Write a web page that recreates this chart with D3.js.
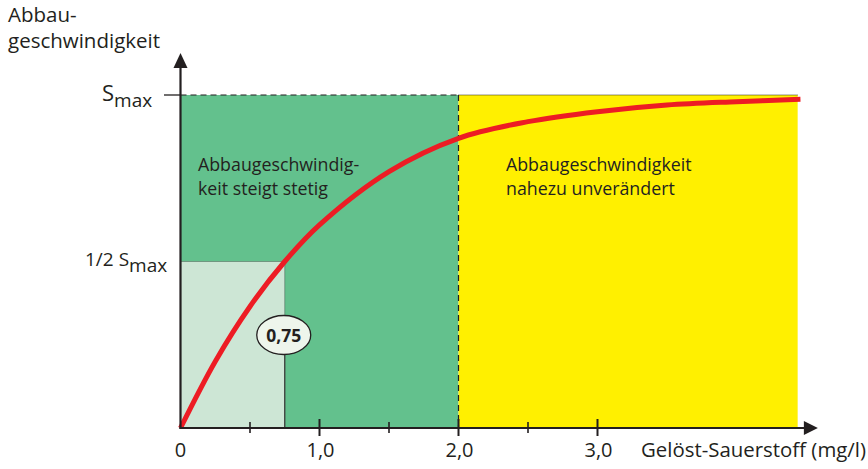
<!DOCTYPE html>
<html><head><meta charset="utf-8">
<script src="https://cdn.jsdelivr.net/npm/d3@7"></script>
<style>body{margin:0;background:#fff}svg{display:block}text{font-family:"Open Sans",sans-serif;fill:#231f20}</style>
</head><body>
<svg id="c" width="868" height="469"></svg>
<script>
// Dissolved oxygen (mg/l) vs. relative degradation rate (fraction of Smax)
const oxygen = [0, 0.25, 0.5, 0.75, 1.0, 1.5, 2.0, 2.5, 3.0, 3.5, 4.0, 4.46];
const rate   = [0, 0.2, 0.365, 0.5, 0.61, 0.77, 0.87, 0.92, 0.95, 0.97, 0.98, 0.987];
const majorTicks = [1, 2, 3];
const minorTicks = [0.5, 1.5, 2.5];
const tickLabels = ["0", "1,0", "2,0", "3,0"];
const halfPoint = 0.75;      // O2 at 1/2 Smax
const zoneLimit = 2.0;       // boundary between zones
const xEnd = 4.44;           // end of shaded area
const axisEnd = 4.6;

const svg = d3.select("#c");
const x = d3.scaleLinear().domain([0, 1]).range([180.5, 319.5]);
const y = d3.scaleLinear().domain([0, 1]).range([428, 95]);
const ink = "#231f20";

// zones
svg.append("rect").attr("x", x(0)).attr("y", y(1)).attr("width", x(zoneLimit) - x(0)).attr("height", y(0) - y(1)).attr("fill", "#63c18d");
svg.append("rect").attr("x", x(zoneLimit)).attr("y", y(1)).attr("width", x(xEnd) - x(zoneLimit)).attr("height", y(0) - y(1)).attr("fill", "#fff000");
svg.append("rect").attr("x", x(0)).attr("y", y(0.5)).attr("width", x(halfPoint) - x(0)).attr("height", y(0) - y(0.5)).attr("fill", "#cde6d5");

// reference lines
svg.append("line").attr("x1", x(0)).attr("x2", x(zoneLimit)).attr("y1", y(1)).attr("y2", y(1)).attr("stroke", ink).attr("stroke-width", 1.2).attr("stroke-dasharray", "6,4");
svg.append("line").attr("x1", x(zoneLimit)).attr("x2", x(xEnd)).attr("y1", y(1)).attr("y2", y(1)).attr("stroke", ink).attr("stroke-width", 1).attr("stroke-dasharray", "1,1");
svg.append("line").attr("x1", x(zoneLimit)).attr("x2", x(zoneLimit)).attr("y1", y(1)).attr("y2", y(0)).attr("stroke", ink).attr("stroke-width", 1.2).attr("stroke-dasharray", "6,4");
svg.append("line").attr("x1", x(0)).attr("x2", x(halfPoint)).attr("y1", y(0.5)).attr("y2", y(0.5)).attr("stroke", "#4a5a50").attr("stroke-width", 1).attr("stroke-dasharray", "1,1");
svg.append("line").attr("x1", x(halfPoint)).attr("x2", x(halfPoint)).attr("y1", y(0.5)).attr("y2", 335).attr("stroke", "#4a5a50").attr("stroke-width", 1).attr("stroke-dasharray", "1,1");
svg.append("line").attr("x1", x(halfPoint)).attr("x2", x(halfPoint)).attr("y1", 335).attr("y2", y(0)).attr("stroke", "#3a3a3a").attr("stroke-width", 1.3);

// zone texts
const t1 = svg.append("text").attr("font-size", 17.8);
t1.append("tspan").attr("x", 198).attr("y", 171).text("Abbaugeschwindig-");
t1.append("tspan").attr("x", 198).attr("y", 195).text("keit steigt stetig");
const t2 = svg.append("text").attr("font-size", 17.8);
t2.append("tspan").attr("x", 506).attr("y", 171).text("Abbaugeschwindigkeit");
t2.append("tspan").attr("x", 506).attr("y", 195).text("nahezu unverändert");

// curve
const pts = oxygen.map((o, i) => [x(o), y(rate[i])]);
svg.append("path").attr("d", d3.line().curve(d3.curveCatmullRom.alpha(0.5))(pts)).attr("fill", "none").attr("stroke", "#ed1c24").attr("stroke-width", 5);

// 0,75 label
svg.append("ellipse").attr("cx", x(halfPoint) - 1).attr("cy", 335).attr("rx", 27).attr("ry", 19.5).attr("fill", "#eef5ec").attr("stroke", ink).attr("stroke-width", 1.3);
svg.append("text").attr("x", x(halfPoint) - 1).attr("y", 341.5).attr("text-anchor", "middle").attr("font-size", 17.5).attr("font-weight", "bold").text("0,75");

// axes
svg.append("line").attr("x1", x(0)).attr("x2", x(0)).attr("y1", y(0) + 1).attr("y2", 64).attr("stroke", ink).attr("stroke-width", 2.2);
svg.append("path").attr("d", `M${x(0)},53 L${x(0) - 7},68 L${x(0) + 7},68 Z`).attr("fill", ink);
svg.append("line").attr("x1", x(0) - 1).attr("x2", x(axisEnd) - 12).attr("y1", y(0)).attr("y2", y(0)).attr("stroke", ink).attr("stroke-width", 2.2);
svg.append("path").attr("d", `M${x(axisEnd) - 2},${y(0)} L${x(axisEnd) - 16},${y(0) - 7} L${x(axisEnd) - 16},${y(0) + 7} Z`).attr("fill", ink);

majorTicks.forEach(t => svg.append("line").attr("x1", x(t)).attr("x2", x(t)).attr("y1", y(0) - 9).attr("y2", y(0) + 8).attr("stroke", ink).attr("stroke-width", 2));
minorTicks.forEach(t => svg.append("line").attr("x1", x(t)).attr("x2", x(t)).attr("y1", y(0) - 6).attr("y2", y(0) + 5).attr("stroke", ink).attr("stroke-width", 1.6));
[0, 1, 2, 3].forEach((t, i) => svg.append("text").attr("x", x(t) + (i === 0 ? 0 : 1)).attr("y", 457).attr("text-anchor", "middle").attr("font-size", 20).text(tickLabels[i]));
svg.append("text").attr("x", 641).attr("y", 457).attr("font-size", 20).attr("textLength", 225).attr("lengthAdjust", "spacingAndGlyphs").text("Gelöst-Sauerstoff (mg/l)");

// y ticks
svg.append("line").attr("x1", 164).attr("x2", x(0)).attr("y1", y(1)).attr("y2", y(1)).attr("stroke", ink).attr("stroke-width", 1.3);
const s1 = svg.append("text").attr("x", 102).attr("y", 101).attr("font-size", 22);
s1.append("tspan").text("S");
s1.append("tspan").attr("dy", 6).attr("font-size", 19).text("max");
const s2 = svg.append("text").attr("x", 85).attr("y", 266).attr("font-size", 19);
s2.append("tspan").text("1/2 S");
s2.append("tspan").attr("dy", 6).text("max");

// y title
const yt = svg.append("text").attr("font-size", 20.5);
yt.append("tspan").attr("x", 8).attr("y", 22).text("Abbau-");
yt.append("tspan").attr("x", 8).attr("y", 48).text("geschwindigkeit");
</script>
</body></html>
